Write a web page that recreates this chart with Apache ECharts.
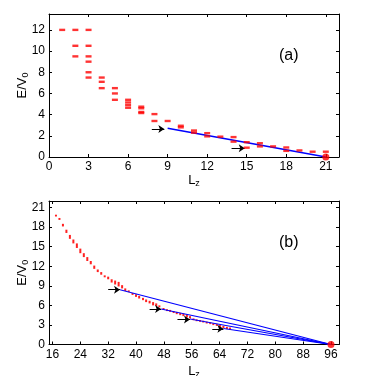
<!DOCTYPE html>
<html>
<head>
<meta charset="utf-8">
<script src="https://cdn.jsdelivr.net/npm/echarts@6/dist/echarts.min.js"></script>
<style>
html, body { margin: 0; padding: 0; background: #fff; }
#chart { width: 374px; height: 376px; }
</style>
</head>
<body>
<div id="chart"></div>
<script>
// panel (a): one short dash per level
const lzA = [1, 2, 2, 2, 3, 3, 3, 3, 3, 3, 4, 4, 4, 5, 5, 5, 6, 6, 6, 6, 7, 7, 7, 7, 8, 8, 9,
    10, 10, 11, 11, 12, 12, 13, 14, 14, 15, 15, 16, 16, 17, 18, 18, 19, 20, 21]
const eA = [12, 12, 10.5, 9.5, 12, 10.5, 9.5, 9, 8, 7.5, 7.5, 7.1, 6.5, 6.5, 6, 5.4, 5.4, 5.15, 4.9, 4.65,
    4.75, 4.6, 4.25, 4.15, 4.05, 3.4, 3.4, 2.95, 2.8, 2.5, 2.3, 2.25, 1.95, 1.92, 1.88, 1.45,
    1.4, 0.88, 1.3, 1.0, 1.0, 0.9, 0.58, 0.62, 0.5, 0.5]
const lineA = [[9, 2.72], [21, 0]]
const arrowsA = [[[7.8, 2.65], [8.75, 2.65]], [[13.85, 0.82], [14.85, 0.82]]]
const endA = [21, 0]

// panel (b): each mark spans a small band of levels (hi / lo)
const lzB = [17, 18, 19, 20, 21, 22, 23, 24, 25, 26, 27, 28, 29, 30, 31, 32, 33, 34, 35, 36,
    36.9, 37.9, 39, 40, 40.9, 42, 42.9, 43.9, 44.9, 45.8, 46.7, 47.9, 48.9, 49.8, 50.8, 51.7,
    52.7, 53.6, 54.6, 55.5, 56.5, 57.4, 58.4, 59.3, 60.3, 61.3, 62.2, 63.2, 64.1, 65.1, 66.1, 67]
const eBhi = [19.9, 19.4, 18.5, 17.6, 16.8, 16.1, 15.5, 14.7, 14.0, 13.4, 12.8, 12.1, 11.5, 11.1, 10.6, 10.4, 10.0, 9.8, 9.6, 9.1,
    8.6, 8.3, 7.9, 7.7, 7.45, 7.15, 6.9, 6.7, 6.5, 6.3, 6.0, 5.6, 5.4, 5.3, 5.1, 5.0,
    4.85, 4.75, 4.6, 4.35, 4.0, 3.85, 3.75, 3.65, 3.5, 3.4, 3.25, 3.15, 3.0, 2.85, 2.7, 2.6]
const eBlo = [19.7, 19.1, 18.1, 17.1, 16.2, 15.5, 14.8, 14.0, 13.4, 12.8, 12.3, 11.6, 11.1, 10.7, 10.3, 10.0, 9.5, 9.2, 8.9, 8.6,
    8.2, 8.1, 7.6, 7.3, 7.05, 6.8, 6.5, 6.3, 6.0, 5.9, 5.7, 5.4, 5.15, 5.0, 4.85, 4.65,
    4.5, 4.35, 4.15, 4.0, 3.75, 3.7, 3.5, 3.4, 3.25, 3.15, 3.0, 2.85, 2.7, 2.5, 2.35, 2.3]
const startLzB = [35.4, 47.2, 55.5, 65.1]
const startEB = [8.4, 5.45, 3.9, 2.45]
const endB = [96, 0]
const arrowsB = [[[32.0, 8.4], [35.4, 8.4]], [[43.9, 5.45], [47.2, 5.45]], [[51.9, 3.85], [55.5, 3.85]], [[61.9, 2.4], [65.1, 2.4]]]

// tick labels
const ticksXA = [0, 3, 6, 9, 12, 15, 18, 21]
const ticksYA = [0, 2, 4, 6, 8, 10, 12]
const ticksXB = [16, 24, 32, 40, 48, 56, 64, 72, 80, 88, 96]
const ticksYB = [0, 3, 6, 9, 12, 15, 18, 21]

const font = 'Liberation Sans, Arial, sans-serif'
const black = { color: '#000', width: 1 }
const subRich = {
    n: { fontSize: 13, lineHeight: 16, color: '#000', fontFamily: font },
    s: { fontSize: 9, lineHeight: 16, color: '#000', fontFamily: font, verticalAlign: 'bottom' }
}

function axis(grid, pos, min, max, ticks, withLabel, extra) {
    let a = {
        gridIndex: grid, type: 'value', position: pos, min: min, max: max,
        nameMoveOverlap: false,
        axisLine: { show: true, onZero: false, lineStyle: black },
        axisTick: { show: true, inside: true, length: 3, customValues: ticks, lineStyle: black },
        axisLabel: { show: withLabel, customValues: ticks, color: '#000', fontSize: 12, fontFamily: font, margin: 4 },
        splitLine: { show: false }
    }
    return Object.assign(a, extra || {})
}

let myChart = echarts.init(document.getElementById('chart'))
let option = {
    animation: false,
    backgroundColor: '#fff',
    grid: [
        { left: 49, top: 14, width: 290, height: 143, outerBoundsMode: 'none' },
        { left: 49, top: 201, width: 290, height: 143.5, outerBoundsMode: 'none' }
    ],
    xAxis: [
        axis(0, 'bottom', 0, 22, ticksXA, true, { name: '{n|L}{s|z}', nameLocation: 'middle', nameGap: 15, nameTextStyle: { rich: subRich } }),
        axis(0, 'top', 0, 22, ticksXA, false),
        axis(1, 'bottom', 15, 98.3, ticksXB, true, { name: '{n|L}{s|z}', nameLocation: 'middle', nameGap: 19, nameTextStyle: { rich: subRich } }),
        axis(1, 'top', 15, 98.3, ticksXB, false)
    ],
    yAxis: [
        axis(0, 'left', 0, 13.5, ticksYA, true, { name: '{n|E/V}{s|0}', nameLocation: 'middle', nameGap: 19, nameTextStyle: { rich: subRich } }),
        axis(0, 'right', 0, 13.5, ticksYA, false),
        axis(1, 'left', 0, 22, ticksYB, true, { name: '{n|E/V}{s|0}', nameLocation: 'middle', nameGap: 19, nameTextStyle: { rich: subRich } }),
        axis(1, 'right', 0, 22, ticksYB, false)
    ],
    graphic: [
        { type: 'text', left: 279, top: 48, style: { text: '(a)', fontSize: 16, fontFamily: font, fill: '#000' } },
        { type: 'text', left: 279, top: 235, style: { text: '(b)', fontSize: 16, fontFamily: font, fill: '#000' } }
    ],
    series: [
        // (a)
        {
            type: 'scatter', xAxisIndex: 0, yAxisIndex: 0, symbol: 'rect', symbolSize: [6, 2.4],
            itemStyle: { color: '#ff0000' },
            data: lzA.map((x, i) => [x, eA[i]])
        },
        {
            type: 'lines', coordinateSystem: 'cartesian2d', xAxisIndex: 0, yAxisIndex: 0,
            lineStyle: { color: '#0000ff', width: 1.6, opacity: 1 },
            data: [{ coords: lineA }]
        },
        {
            type: 'lines', coordinateSystem: 'cartesian2d', xAxisIndex: 0, yAxisIndex: 0,
            symbol: ['none', 'arrow'], symbolSize: 6,
            lineStyle: { color: '#000', width: 1.2, opacity: 1 },
            data: arrowsA.map(c => ({ coords: c }))
        },
        {
            type: 'scatter', xAxisIndex: 0, yAxisIndex: 0, symbolSize: 7, clip: false,
            itemStyle: { color: '#ff0000' }, data: [endA]
        },
        // (b)
        {
            type: 'custom', xAxisIndex: 2, yAxisIndex: 2,
            data: lzB.map((x, i) => [x, eBhi[i], eBlo[i]]),
            renderItem: function (params, api) {
                let top = api.coord([api.value(0), api.value(1)])
                let bot = api.coord([api.value(0), api.value(2)])
                let h = Math.max(bot[1] - top[1], 1.8)
                return {
                    type: 'rect',
                    shape: { x: top[0] - 1, y: top[1], width: 2, height: h },
                    style: { fill: '#ff2020' }
                }
            }
        },
        {
            type: 'lines', coordinateSystem: 'cartesian2d', xAxisIndex: 2, yAxisIndex: 2,
            lineStyle: { color: '#0000ff', width: 1.1, opacity: 1 },
            data: startLzB.map((x, i) => ({ coords: [[x, startEB[i]], endB] }))
        },
        {
            type: 'lines', coordinateSystem: 'cartesian2d', xAxisIndex: 2, yAxisIndex: 2,
            symbol: ['none', 'arrow'], symbolSize: 6,
            lineStyle: { color: '#000', width: 1.2, opacity: 1 },
            data: arrowsB.map(c => ({ coords: c }))
        },
        {
            type: 'scatter', xAxisIndex: 2, yAxisIndex: 2, symbolSize: 7, clip: false,
            itemStyle: { color: '#ff0000' }, data: [endB]
        }
    ]
}
myChart.setOption(option)
</script>
</body>
</html>
